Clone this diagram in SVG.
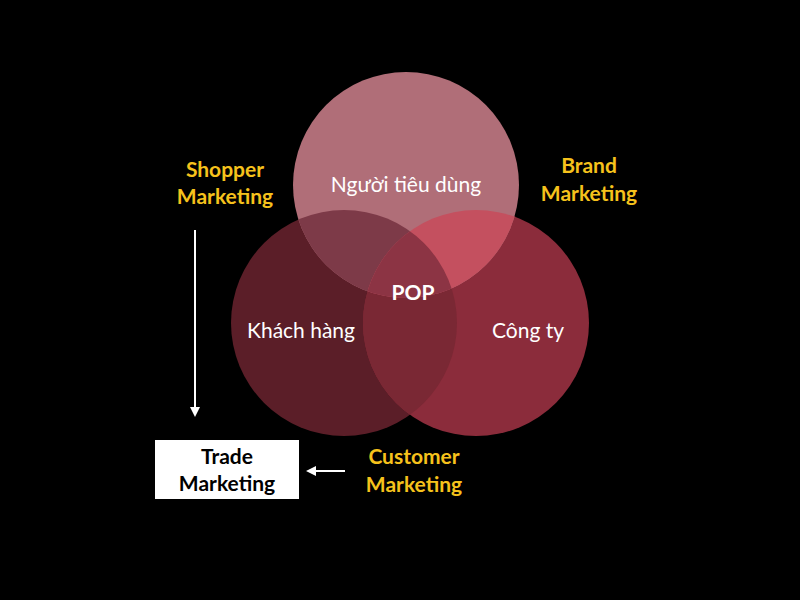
<svg xmlns="http://www.w3.org/2000/svg" width="800" height="600" viewBox="0 0 800 600">
<style>
.w{fill:#fff;font-family:Lato,"Noto Sans",sans-serif;font-size:21px;text-anchor:middle}
.y{fill:#f6c21c;font-family:Lato,"Noto Sans",sans-serif;font-size:21px;font-weight:bold;text-anchor:middle}
.b{fill:#000;font-family:Lato,"Noto Sans",sans-serif;font-size:21px;font-weight:bold;text-anchor:middle}
</style>
<defs>
<clipPath id="cT"><circle cx="406" cy="185" r="113"/></clipPath>
<clipPath id="cL"><circle cx="344" cy="323" r="113"/></clipPath>
<clipPath id="cR"><circle cx="476" cy="323" r="113"/></clipPath>
<marker id="ah" markerWidth="10" markerHeight="10" refX="8" refY="5" orient="auto" markerUnits="userSpaceOnUse"><path d="M0,0L10,5L0,10z" fill="#fff"/></marker>
</defs>
<rect width="800" height="600" fill="#000"/>
<g id="venn">
<circle cx="344" cy="323" r="113" fill="#5b1e28"/>
<circle cx="476" cy="323" r="113" fill="#8b2c3b"/>
<circle cx="406" cy="185" r="113" fill="#b06e78"/>
<circle cx="476" cy="323" r="113" fill="#7a2834" clip-path="url(#cL)"/>
<g clip-path="url(#cT)">
<circle cx="344" cy="323" r="113" fill="#7d3a48"/>
<circle cx="476" cy="323" r="113" fill="#c4505f"/>
<g clip-path="url(#cL)"><circle cx="476" cy="323" r="113" fill="#8c3444"/></g>
</g>
</g>
<g id="n-consumer"><text class="w" x="406" y="192">Người tiêu dùng</text></g>
<g id="n-pop"><text class="w" x="413" y="300" font-weight="bold">POP</text></g>
<g id="n-customer"><text class="w" x="301" y="338">Khách hàng</text></g>
<g id="n-company"><text class="w" x="528" y="338">Công ty</text></g>
<g id="n-shopper"><text class="y" x="225" y="177">Shopper</text><text class="y" x="225" y="204">Marketing</text></g>
<g id="n-brand"><text class="y" x="589" y="173">Brand</text><text class="y" x="589" y="201">Marketing</text></g>
<g id="n-custmkt"><text class="y" x="414" y="464">Customer</text><text class="y" x="414" y="492">Marketing</text></g>
<g id="n-trade"><rect x="155" y="440" width="144" height="59" fill="#fff"/><text class="b" x="227" y="464">Trade</text><text class="b" x="227" y="491">Marketing</text></g>
<g id="connectors" stroke="#fff" stroke-width="2">
<line x1="195" y1="230" x2="195" y2="415" marker-end="url(#ah)"/>
<line x1="345" y1="471" x2="308" y2="471" marker-end="url(#ah)"/>
</g>
</svg>
